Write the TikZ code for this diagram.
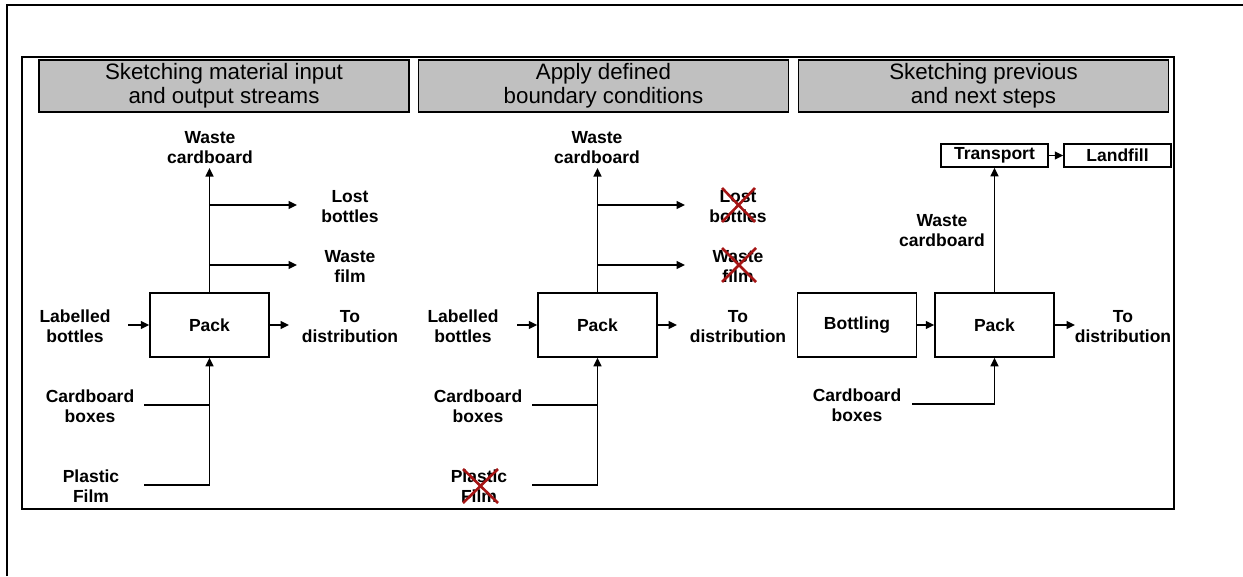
\documentclass[tikz,border=0pt]{standalone}
\usepackage{fontspec}
\setmainfont{Liberation Sans}
\usetikzlibrary{arrows.meta}
\definecolor{hdrgray}{RGB}{192,192,192}
\definecolor{xred}{RGB}{165,20,20}
\tikzset{
  hdr/.style={draw=black, line width=1.6pt, fill=hdrgray, minimum width=370pt, minimum height=52pt, inner sep=0pt, align=center, font=\fontsize{22.3}{24}\selectfont},
  procbox/.style={draw=black, line width=1.5pt, minimum width=119pt, minimum height=64pt, inner sep=0pt, font=\bfseries\fontsize{17.5}{20}\selectfont},
  smallbox/.style={draw=black, line width=1.5pt, minimum width=107pt, minimum height=23pt, inner sep=0pt, font=\bfseries\fontsize{17.5}{20}\selectfont},
  lbl/.style={anchor=base, align=center, inner sep=0pt, font=\bfseries\fontsize{17.5}{20}\selectfont},
  conn/.style={line width=1.6pt},
  arr/.style={line width=1.6pt, -{Triangle[length=8.5pt,width=8pt]}},
  xmark/.style={draw=xred, line width=2.6pt},
  frame/.style={line width=2pt}
}
\begin{document}
\begin{tikzpicture}[x=1pt,y=-1pt]
\useasboundingbox (0,0) rectangle (1243,576);
% frames
\draw[frame] (7,576) -- (7,5) -- (1243,5);
\draw[frame] (22,57) rectangle (1174,509);
% headers
\node[hdr] (h1) at (224,86) {Sketching material input\\and output streams};
\node[hdr] (h2) at (603.5,86) {Apply defined\\boundary conditions};
\node[hdr] (h3) at (983.5,86) {Sketching previous\\and next steps};

% ---------------- panel 1 (label coordinates = baseline of last line)
\node[procbox] (pack1) at (209.5,325) {Pack};
\node[lbl] (wc1) at (210,163) {Waste\\cardboard};
\node[lbl] (lb1) at (350,222) {Lost\\bottles};
\node[lbl] (wf1) at (350,282) {Waste\\film};
\node[lbl] (lab1) at (75,342) {Labelled\\bottles};
\node[lbl] (td1) at (350,342) {To\\distribution};
\node[lbl] (cb1) at (90,422) {Cardboard\\boxes};
\node[lbl] (pf1) at (91,502) {Plastic\\Film};
\coordinate (wc1t) at (209.5,168);
\coordinate (ja1) at (209.5,205);
\coordinate (jb1) at (209.5,265);
\coordinate (lb1t) at (297,205);
\coordinate (wf1t) at (297,265);
\coordinate (lab1s) at (128,325);
\coordinate (td1t) at (289,325);
\coordinate (cb1s) at (144,405);
\coordinate (pf1s) at (144,485);
\coordinate (jc1) at (209.5,405);
\draw[arr] (pack1.north) -- (wc1t);
\draw[arr] (ja1) -- (lb1t);
\draw[arr] (jb1) -- (wf1t);
\draw[arr] (lab1s) -- (pack1.west);
\draw[arr] (pack1.east) -- (td1t);
\draw[conn] (cb1s) -- (jc1);
\draw[conn] (pf1s) -| (jc1);
\draw[arr] (jc1) -- (pack1.south);

% ---------------- panel 2
\node[procbox] (pack2) at (597.5,325) {Pack};
\node[lbl] (wc2) at (597,163) {Waste\\cardboard};
\node[lbl] (lb2) at (738,222) {Lost\\bottles};
\node[lbl] (wf2) at (738,282) {Waste\\film};
\node[lbl] (lab2) at (463,342) {Labelled\\bottles};
\node[lbl] (td2) at (738,342) {To\\distribution};
\node[lbl] (cb2) at (478,422) {Cardboard\\boxes};
\node[lbl] (pf2) at (479,502) {Plastic\\Film};
\coordinate (wc2t) at (597.5,168);
\coordinate (ja2) at (597.5,205);
\coordinate (jb2) at (597.5,265);
\coordinate (lb2t) at (685,205);
\coordinate (wf2t) at (685,265);
\coordinate (lab2s) at (517,325);
\coordinate (td2t) at (677,325);
\coordinate (cb2s) at (532,405);
\coordinate (pf2s) at (532,485);
\coordinate (jc2) at (597.5,405);
\draw[arr] (pack2.north) -- (wc2t);
\draw[arr] (ja2) -- (lb2t);
\draw[arr] (jb2) -- (wf2t);
\draw[arr] (lab2s) -- (pack2.west);
\draw[arr] (pack2.east) -- (td2t);
\draw[conn] (cb2s) -- (jc2);
\draw[conn] (pf2s) -| (jc2);
\draw[arr] (jc2) -- (pack2.south);
% red crosses
\draw[xmark] (738.5,205) +(-16.5,-17) -- +(16.5,17) +(-16.5,17) -- +(16.5,-17);
\draw[xmark] (739,265) +(-17,-17) -- +(17,17) +(-17,17) -- +(17,-17);
\draw[xmark] (480.5,486) +(-17.5,-17) -- +(17.5,17) +(-17.5,17) -- +(17.5,-17);

% ---------------- panel 3
\node[procbox] (bott) at (857,325) {Bottling};
\node[procbox] (pack3) at (994.5,325) {Pack};
\node[smallbox] (trans) at (994.5,155.5) {Transport};
\node[smallbox] (land) at (1117.5,155.5) {Landfill};
\node[lbl] (wc3) at (942,246) {Waste\\cardboard};
\node[lbl] (td3) at (1123,342) {To\\distribution};
\node[lbl] (cb3) at (857,421) {Cardboard\\boxes};
\coordinate (td3t) at (1075,325);
\coordinate (cb3s) at (912,404);
\draw[arr] (bott.east) -- (pack3.west);
\draw[arr] (pack3.north) -- (trans.south);
\draw[arr] (trans.east) -- (land.west);
\draw[arr] (pack3.east) -- (td3t);
\draw[arr] (cb3s) -| (pack3.south);
\end{tikzpicture}
\end{document}
